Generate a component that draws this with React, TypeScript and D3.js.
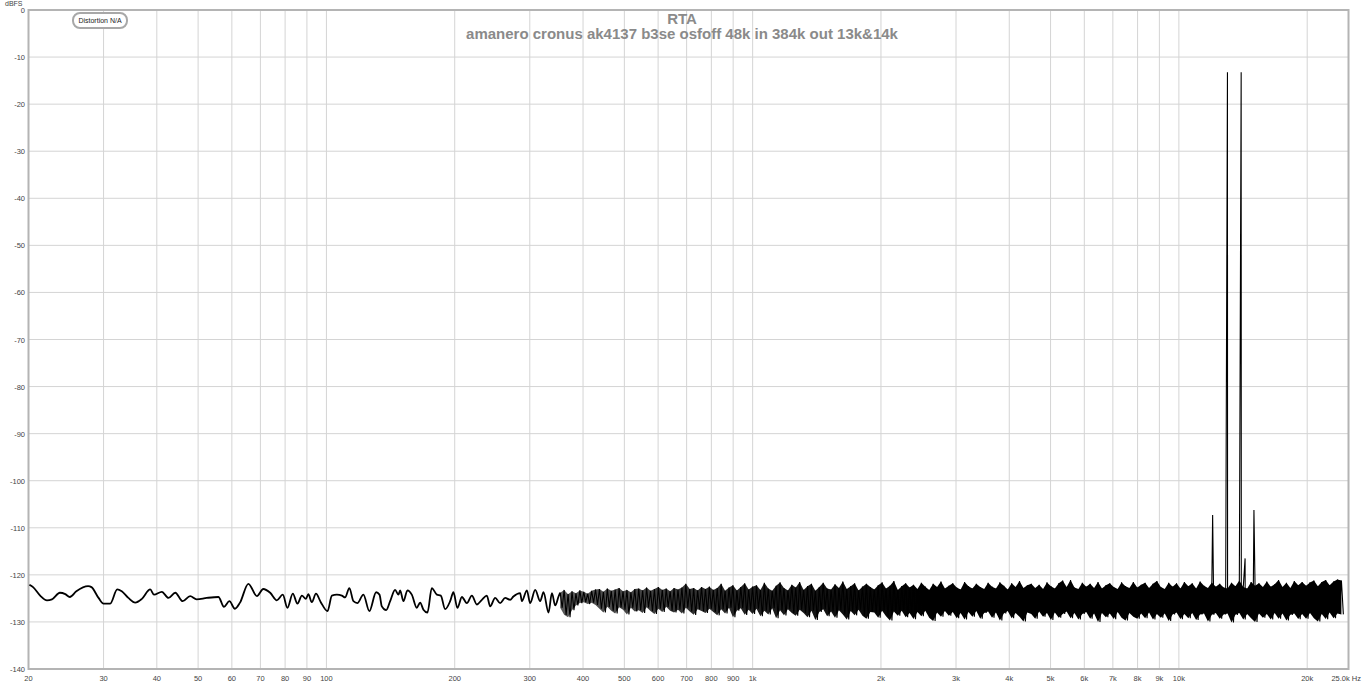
import React from "react";
import * as d3 from "d3";

// ---------- data ----------
const TITLE = "RTA";
const SUBTITLE = "amanero cronus ak4137 b3se osfoff 48k in 384k out 13k&14k";
const LEGEND_TEXT = "Distortion N/A";

// Y axis (dBFS)
const Y_TICKS = [0, -10, -20, -30, -40, -50, -60, -70, -80, -90, -100, -110, -120, -130, -140];

// X axis (Hz)
const X_GRID = [20, 30, 40, 50, 60, 70, 80, 90, 100, 200, 300, 400, 500, 600, 700, 800, 900, 1000,
  2000, 3000, 4000, 5000, 6000, 7000, 8000, 9000, 10000, 20000];
const X_LABELS = ["20", "30", "40", "50", "60", "70", "80", "90", "100", "200", "300", "400", "500", "600",
  "700", "800", "900", "1k", "2k", "3k", "4k", "5k", "6k", "7k", "8k", "9k", "10k", "20k"];

// Low-frequency part of the trace (resolved individual points)
const LOW_FREQ = [20.1, 20.5, 21.3, 22.1, 22.7, 23.7, 24.4, 25.0, 25.9, 27.6, 28.1, 29.2, 30.0, 31.1, 32.3,
  33.1, 34.3, 35.6, 36.9, 38.6, 39.4, 41.1, 42.6, 44.2, 46.0, 47.9, 49.6, 52.4, 55.8, 57.5, 59.2, 61.0,
  62.7, 65.6, 68.7, 71.1, 73.8, 76.5, 79.0, 81.0, 83.4, 85.5, 87.6, 89.5, 90.7, 92.4, 94.5, 97.0, 100.6,
  103.0, 105.8, 108.7, 110.6, 113.2, 115.7, 118.2, 122.1, 126.1, 130.8, 133.2, 134.9, 138.1, 141.1, 144.9,
  147.6, 148.9, 151.6, 154.9, 158.6, 162.9, 165.9, 168.9, 172.6, 176.7, 181.6, 185.5, 189.9, 195.1, 198.6,
  202.9, 207.9, 213.5, 219.4, 225.4, 231.6, 237.9, 242.2, 248.8, 255.6, 262.6, 269.8, 274.6, 284.8, 287.4,
  295.3, 300.6, 308.9, 317.3, 323.1, 331.9, 338.1, 344.2, 350.4];
const LOW_DB = [-122.1, -122.6, -124.4, -125.4, -125.2, -123.8, -124.1, -124.7, -123.5, -122.4, -122.6,
  -124.9, -126.1, -126.1, -123.1, -123.5, -124.9, -125.9, -125.1, -123.1, -124.2, -123.6, -124.9, -123.8,
  -125.6, -124.5, -125.2, -124.9, -124.7, -126.8, -125.6, -127.2, -125.9, -121.9, -124.5, -123.0, -123.8,
  -125.4, -124.2, -127.0, -124.0, -126.1, -124.4, -125.1, -124.1, -125.8, -124.0, -125.8, -127.7,
  -124.4, -124.2, -124.4, -124.8, -122.8, -125.6, -126.0, -124.2, -127.7, -123.7, -124.2, -126.7, -127.5,
  -125.6, -123.2, -124.2, -123.3, -125.6, -123.3, -124.2, -127.0, -125.9, -127.4, -128.0, -122.8, -124.2,
  -124.4, -127.3, -125.6, -123.7, -127.0, -124.7, -126.0, -124.4, -126.3, -125.3, -124.4, -126.7, -124.9,
  -126.0, -124.9, -125.3, -124.6, -123.9, -125.6, -123.3, -126.0, -123.2, -125.6, -123.7, -128.0, -123.9,
  -126.5, -124.6];

// Dense noise region: per-column max / min (log-spaced columns from start to end frequency)
const NOISE_F_START = 353.6;
const NOISE_F_END = 24060;
const NOISE_HI = [
  -123.8, -123.2, -124.1, -123.5, -123.9, -123.3, -123.6, -124.0, -123.4, -123.1,
  -123.0, -123.6, -122.9, -123.4, -123.1, -122.8, -123.5, -123.2, -123.7, -123.0,
  -122.9, -123.3, -122.7, -123.4, -123.0, -122.6, -123.2, -122.9, -123.5, -122.8,
  -123.1, -122.7, -121.9, -123.0, -122.8, -123.3, -122.6, -123.0, -122.5, -123.2,
  -122.8, -121.9, -123.4, -122.7, -122.2, -123.3, -122.6, -121.8, -123.1, -122.5,
  -122.2, -123.2, -121.7, -122.9, -123.4, -122.3, -121.6, -122.8, -123.3, -122.1,
  -122.7, -121.5, -123.2, -122.4, -121.9, -123.4, -122.6, -121.7, -122.9, -123.1,
  -122.0, -122.8, -121.4, -123.0, -122.4, -121.8, -123.3, -122.5, -121.9, -122.6,
  -123.1, -122.2, -121.6, -122.9, -122.3, -121.3, -123.2, -122.4, -121.8, -122.7,
  -122.1, -123.0, -121.7, -122.5, -123.2, -121.9, -122.6, -121.4, -122.9, -122.3,
  -121.8, -122.7, -123.1, -121.5, -122.4, -122.9, -121.9, -122.6, -123.0, -121.7,
  -122.5, -122.9, -121.6, -122.3, -123.1, -121.8, -122.6, -121.3, -122.8, -122.2,
  -121.9, -122.8, -122.1, -123.0, -121.6, -122.4, -122.9, -121.8, -121.2, -122.6,
  -121.1, -122.7, -123.0, -121.7, -122.5, -121.9, -122.8, -121.5, -122.9, -122.2,
  -121.8, -122.6, -123.0, -121.6, -122.4, -122.8, -121.5, -122.7, -122.1, -121.7,
  -122.8, -121.9, -121.3, -122.6, -123.0, -121.7, -122.5, -121.8, -122.9, -121.5,
  -122.4, -121.8, -122.9, -121.4, -122.3, -122.8, -121.6, -122.5, -121.9, -122.7,
  -122.9, -121.7, -122.4, -121.2, -122.6, -122.9, -121.5, -122.3, -121.8, -122.6,
  -121.4, -122.5, -122.0, -121.1, -122.6, -121.7, -122.8, -121.3, -122.2, -121.5,
  -122.3, -121.6, -121.2, -122.4, -121.5, -121.1, -122.2, -121.4, -121.0, -121.2,
];
const NOISE_LO = [
  -127.0, -128.5, -129.0, -127.5, -126.5, -126.0, -125.8, -126.2, -125.9, -126.4,
  -127.2, -128.0, -126.8, -127.6, -128.2, -126.9, -127.4, -128.4, -127.0, -127.8,
  -127.5, -128.1, -126.9, -127.7, -128.3, -127.2, -127.9, -126.8, -127.6, -128.0,
  -127.4, -128.2, -127.0, -127.8, -128.5, -127.3, -127.7, -128.1, -127.2, -127.9,
  -128.6, -127.3, -128.2, -127.0, -129.0, -127.6, -127.1, -128.5, -127.4, -128.3,
  -127.2, -128.8, -127.6, -128.4, -127.1, -129.2, -127.5, -128.6, -127.3, -128.1,
  -128.7, -127.4, -128.1, -129.0, -127.6, -129.6, -127.9, -127.3, -128.8, -127.8,
  -129.1, -127.5, -128.4, -129.5, -127.7, -128.6, -127.4, -128.7, -129.3, -127.9,
  -128.0, -129.1, -127.6, -128.8, -129.7, -127.8, -128.7, -127.6, -129.0, -128.1,
  -129.4, -127.9, -128.8, -127.6, -129.1, -129.8, -128.0, -128.9, -127.7, -128.7,
  -127.9, -129.2, -128.1, -129.5, -127.9, -128.9, -127.7, -129.3, -128.1, -127.8,
  -129.1, -128.0, -129.7, -128.2, -127.7, -129.2, -128.1, -128.9, -129.9, -128.0,
  -128.3, -129.3, -127.8, -128.9, -128.1, -129.6, -128.0, -129.1, -128.3, -127.8,
  -129.2, -128.1, -129.5, -128.3, -127.9, -129.3, -128.2, -130.0, -128.1, -129.0,
  -128.2, -129.4, -127.9, -129.1, -129.7, -128.1, -128.9, -129.3, -128.2, -129.2,
  -128.0, -129.5, -128.3, -129.1, -128.2, -129.8, -128.4, -128.0, -129.4, -128.3,
  -129.2, -128.1, -129.6, -128.4, -128.2, -129.9, -128.5, -128.1, -129.3, -128.4,
  -128.2, -130.1, -128.5, -128.1, -129.5, -128.3, -129.2, -130.0, -128.2, -129.1,
  -128.3, -129.5, -128.1, -129.3, -128.2, -129.7, -128.5, -128.2, -129.4, -128.3,
  -129.3, -128.1, -129.2, -129.9, -128.3, -129.4, -128.0, -129.2, -128.2, -128.4,
];

// Tones and intermodulation products
const PEAK_FREQ = [12000, 13000, 14000, 14300, 15000];
const PEAK_DB = [-107.3, -13.2, -13.2, -116.5, -106.2];

// ---------- layout ----------
const W = 1362;
const H = 685;
const PLOT = { left: 28.5, right: 1348.5, top: 10, bottom: 669 };
const FONT = "'Liberation Sans', Arial, sans-serif";

export default function App() {
  const x = d3.scaleLog().domain([20, 25000]).range([PLOT.left, PLOT.right]);
  const y = d3.scaleLinear().domain([0, -140]).range([PLOT.top, PLOT.bottom]);

  const lowPts: [number, number][] = LOW_FREQ.map((f, i) => [f, LOW_DB[i]]);

  // dense region columns
  const n = NOISE_HI.length;
  const ratio = Math.pow(NOISE_F_END / NOISE_F_START, 1 / (n - 1));
  const cols = NOISE_HI.map((hi, i) => ({ f: NOISE_F_START * Math.pow(ratio, i), hi, lo: NOISE_LO[i] }));

  const densePts: [number, number][] = [];
  cols.forEach((c) => {
    densePts.push([c.f, c.hi]);
    densePts.push([c.f * Math.sqrt(ratio), c.lo]);
  });
  PEAK_FREQ.forEach((f, i) => densePts.push([f, PEAK_DB[i]]));
  densePts.sort((a, b) => a[0] - b[0]);

  const lowLine = d3
    .line<[number, number]>()
    .x((d) => x(d[0]))
    .y((d) => y(d[1]))
    .curve(d3.curveMonotoneX);
  const denseLine = d3
    .line<[number, number]>()
    .x((d) => x(d[0]))
    .y((d) => y(d[1]));
  const band = d3
    .area<{ f: number; hi: number; lo: number }>()
    .x((d) => x(d.f))
    .y0((d) => y(d.lo))
    .y1((d) => y(d.hi));

  const lowPath = lowLine([...lowPts, densePts[0]]) || "";
  const densePath = denseLine(densePts) || "";
  const bandPath = band(cols) || "";

  const gx0 = x(NOISE_F_START);
  const gx1 = x(2500);

  return (
    <svg
      width={W}
      height={H}
      style={{ position: "absolute", left: 0, top: 0, display: "block", background: "#fff" }}
      fontFamily={FONT}
    >
      <defs>
        <clipPath id="plotclip">
          <rect x={PLOT.left} y={PLOT.top} width={PLOT.right - PLOT.left} height={PLOT.bottom - PLOT.top} />
        </clipPath>
        <linearGradient id="bandfill" gradientUnits="userSpaceOnUse" x1={gx0} x2={gx1} y1={0} y2={0}>
          <stop offset="0" stopColor="#5a5a5a" />
          <stop offset="0.5" stopColor="#222" />
          <stop offset="1" stopColor="#000" />
        </linearGradient>
      </defs>
      <rect x={0} y={0} width={W} height={H} fill="#fff" />
      {/* grid */}
      {Y_TICKS.map((t) => (
        <line key={"hy" + t} x1={PLOT.left} x2={PLOT.right} y1={y(t)} y2={y(t)} stroke="#d4d4d4" strokeWidth={1} />
      ))}
      {X_GRID.map((f) => (
        <line key={"vx" + f} x1={x(f)} x2={x(f)} y1={PLOT.top} y2={PLOT.bottom} stroke="#d4d4d4" strokeWidth={1} />
      ))}
      {/* frame */}
      <rect
        x={PLOT.left}
        y={PLOT.top}
        width={PLOT.right - PLOT.left}
        height={PLOT.bottom - PLOT.top}
        fill="none"
        stroke="#b4b4b4"
        strokeWidth={2}
      />
      {/* titles */}
      <text x={682} y={24} textAnchor="middle" fontSize={15} fontWeight="bold" fill="#8a8a8a">
        {TITLE}
      </text>
      <text x={682} y={38.5} textAnchor="middle" fontSize={15} fontWeight="bold" fill="#8a8a8a">
        {SUBTITLE}
      </text>
      {/* legend */}
      <rect x={73} y={13} width={54} height={15} rx={7} ry={7} fill="#fff" stroke="#a8a8a8" strokeWidth={2} />
      <text x={100} y={23} textAnchor="middle" fontSize={7} fill="#222">
        {LEGEND_TEXT}
      </text>
      {/* y labels */}
      <text x={5} y={6} fontSize={7} fill="#444">
        dBFS
      </text>
      {Y_TICKS.map((t) => (
        <text key={"yl" + t} x={25} y={y(t) + 3} textAnchor="end" fontSize={7.5} fill="#444">
          {t}
        </text>
      ))}
      {/* x labels */}
      {X_GRID.map((f, i) => (
        <text key={"xl" + f} x={x(f)} y={681} textAnchor="middle" fontSize={7.5} fill="#444">
          {X_LABELS[i]}
        </text>
      ))}
      <text x={1361} y={681} textAnchor="end" fontSize={7.5} fill="#444">
        25.0k Hz
      </text>
      {/* trace */}
      <g clipPath="url(#plotclip)">
        <path d={bandPath} fill="url(#bandfill)" stroke="none" />
        <path d={lowPath} fill="none" stroke="#000" strokeWidth={1.8} strokeLinejoin="round" />
        <path d={densePath} fill="none" stroke="#000" strokeWidth={1.1} strokeLinejoin="miter" strokeMiterlimit={2} />
      </g>
    </svg>
  );
}
